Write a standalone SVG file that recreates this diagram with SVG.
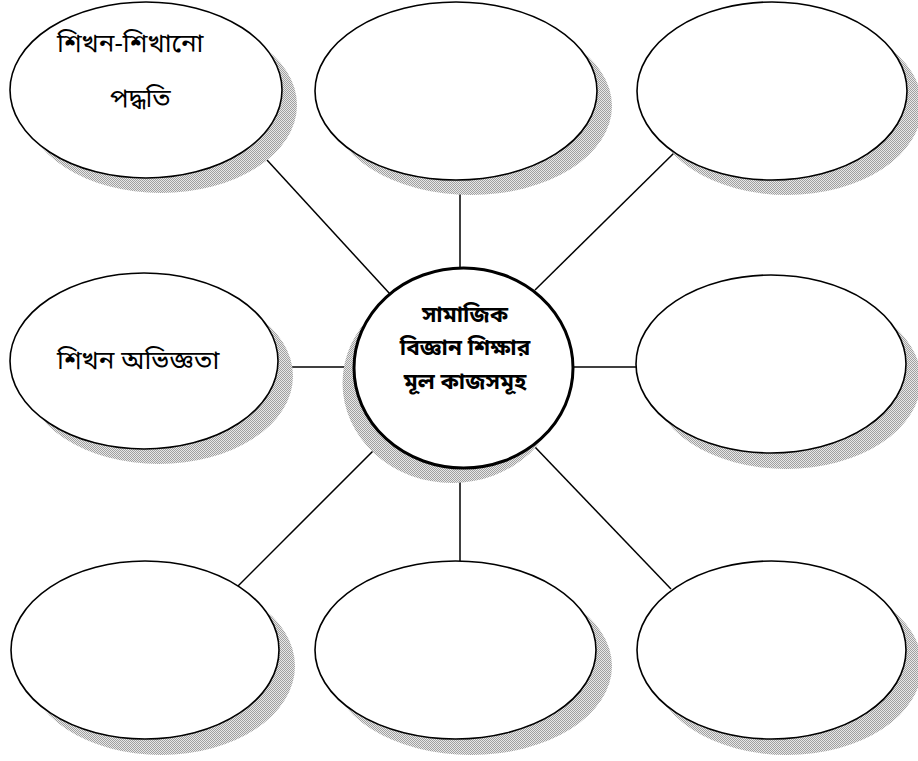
<svg xmlns="http://www.w3.org/2000/svg" width="918" height="761" viewBox="0 0 918 761">
<defs>
<pattern id="dots" patternUnits="userSpaceOnUse" width="2" height="2">
<rect width="2" height="2" fill="#e8e8e8"/>
<rect width="1" height="1" fill="#a0a0a0"/>
<rect x="1" y="1" width="1" height="1" fill="#a0a0a0"/>
</pattern>
</defs>
<style>
.sh{fill:url(#dots);stroke:none}
.el{fill:#fff;stroke:#000;stroke-width:1.6}
.ctr{fill:#fff;stroke:#000;stroke-width:3}
.ln{stroke:#000;stroke-width:1.5;fill:none}
.t{font-family:"Noto Sans Bengali","Noto Serif Bengali","Lohit Bengali","FreeSans","Noto Sans",sans-serif;font-size:26px;fill:#000}
.tc{font-family:"Noto Sans Bengali","Noto Serif Bengali","Lohit Bengali","FreeSans","Noto Sans",sans-serif;font-size:22.5px;font-weight:bold;fill:#000;text-anchor:middle}
</style>
<rect width="918" height="761" fill="#fff"/>
<g id="connectors">
<line class="ln" x1="267" y1="160" x2="390" y2="294"/>
<line class="ln" x1="460" y1="191" x2="460" y2="268"/>
<line class="ln" x1="674" y1="153" x2="535" y2="290"/>
<line class="ln" x1="278" y1="367" x2="354" y2="367"/>
<line class="ln" x1="573" y1="367" x2="636" y2="367"/>
<line class="ln" x1="236" y1="588" x2="385" y2="439"/>
<line class="ln" x1="460" y1="468" x2="460" y2="562"/>
<line class="ln" x1="534" y1="446" x2="671" y2="589"/>
</g>
<g id="node-top-left">
<ellipse class="sh" cx="161" cy="105" rx="136" ry="88"/>
<ellipse class="el" cx="146" cy="90" rx="136" ry="88"/>
<text class="t" x="57" y="52">শিখন-শিখানো</text>
<text class="t" x="110" y="107">পদ্ধতি</text>
</g>
<g id="node-top-center">
<ellipse class="sh" cx="471" cy="106" rx="141" ry="89"/>
<ellipse class="el" cx="456" cy="91" rx="141" ry="89"/>
</g>
<g id="node-top-right">
<ellipse class="sh" cx="787" cy="106" rx="135" ry="89"/>
<ellipse class="el" cx="772" cy="91" rx="135" ry="89"/>
</g>
<g id="node-mid-left">
<ellipse class="sh" cx="159" cy="376" rx="134" ry="88"/>
<ellipse class="el" cx="144" cy="361" rx="134" ry="88"/>
<text class="t" x="57" y="369">শিখন অভিজ্ঞতা</text>
</g>
<g id="node-mid-right">
<ellipse class="sh" cx="786" cy="380" rx="135" ry="89"/>
<ellipse class="el" cx="771" cy="364" rx="135" ry="89"/>
</g>
<g id="node-bottom-left">
<ellipse class="sh" cx="161" cy="666" rx="134" ry="89"/>
<ellipse class="el" cx="145" cy="650" rx="134" ry="89"/>
</g>
<g id="node-bottom-center">
<ellipse class="sh" cx="471" cy="666" rx="141" ry="89"/>
<ellipse class="el" cx="455.5" cy="650" rx="140.5" ry="89"/>
</g>
<g id="node-bottom-right">
<ellipse class="sh" cx="787" cy="666" rx="135" ry="89"/>
<ellipse class="el" cx="771.5" cy="650" rx="134.5" ry="89"/>
</g>
<g id="node-center">
<ellipse class="sh" cx="452" cy="383" rx="109.5" ry="100"/>
<ellipse class="ctr" cx="463.5" cy="368" rx="109.5" ry="100"/>
<text class="tc" x="465" y="322">সামাজিক</text>
<text class="tc" x="465" y="355">বিজ্ঞান শিক্ষার</text>
<text class="tc" x="465" y="389">মূল কাজসমূহ</text>
</g>
</svg>
